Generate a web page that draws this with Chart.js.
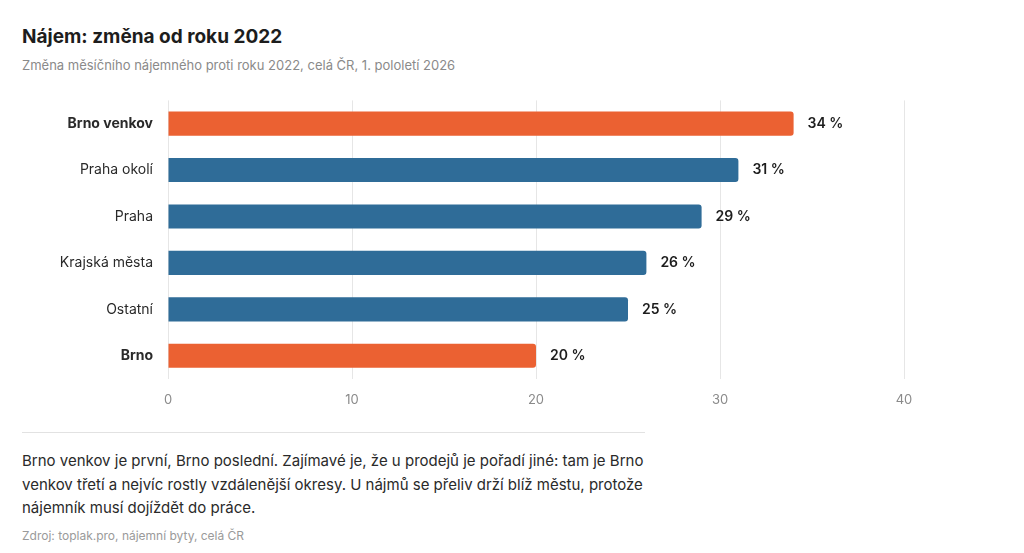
<!DOCTYPE html>
<html><head><meta charset="utf-8">
<script src="https://cdn.jsdelivr.net/npm/chart.js@4"></script>
<style>
body{margin:0;background:#fff;font-family:Inter,"Noto Sans",sans-serif;color:#1d1d1d;width:1024px;height:553px;overflow:hidden;position:relative}
h1{position:absolute;left:22px;top:25px;margin:0;font-size:19px;font-weight:700}
.sub{position:absolute;left:22px;top:57px;font-size:13px;color:#8a8a8a}
#wrap{position:absolute;left:0;top:77px;width:1024px;height:332px}
hr{position:absolute;left:22px;top:432px;width:623px;border:0;border-top:1px solid #e2e2e2;margin:0}
.txt{position:absolute;left:22px;top:449px;width:640px;font-size:15px;line-height:23.5px;color:#2a2a2a}
.src{position:absolute;left:22px;top:528px;font-size:12px;color:#9a9a9a}
</style></head><body>
<h1>Nájem: změna od roku 2022</h1>
<div class="sub">Změna měsíčního nájemného proti roku 2022, celá ČR, 1. pololetí 2026</div>
<div id="wrap"><canvas id="c"></canvas></div>
<hr>
<div class="txt">Brno venkov je první, Brno poslední. Zajímavé je, že u prodejů je pořadí jiné: tam je Brno venkov třetí a nejvíc rostly vzdálenější okresy. U nájmů se přeliv drží blíž městu, protože nájemník musí dojíždět do práce.</div>
<div class="src">Zdroj: toplak.pro, nájemní byty, celá ČR</div>
<script>
const categories = ['Brno venkov', 'Praha okolí', 'Praha', 'Krajská města', 'Ostatní', 'Brno'];
const values = [34, 31, 29, 26, 25, 20];
const highlighted = ['Brno venkov', 'Brno'];

const orange = '#EB6132';
const blue = '#2F6C98';

const valueLabels = {
  id: 'valueLabels',
  afterDatasetsDraw(chart) {
    const ctx = chart.ctx;
    const meta = chart.getDatasetMeta(0);
    ctx.save();
    ctx.font = '600 14px Inter, sans-serif';
    ctx.fillStyle = '#1d1d1d';
    ctx.textBaseline = 'middle';
    meta.data.forEach((bar, i) => {
      ctx.fillText(values[i] + ' %', bar.x + 14, bar.y);
    });
    ctx.restore();
  }
};

new Chart(document.getElementById('c'), {
  type: 'bar',
  data: {
    labels: categories,
    datasets: [{
      data: values,
      backgroundColor: categories.map(c => highlighted.includes(c) ? orange : blue),
      borderRadius: 3,
      borderSkipped: 'start',
      barPercentage: 0.52,
      categoryPercentage: 1
    }]
  },
  options: {
    indexAxis: 'y',
    responsive: true,
    maintainAspectRatio: false,
    animation: false,
    layout: { padding: { top: 10, right: 120, bottom: 0, left: 0 } },
    plugins: { legend: { display: false }, tooltip: { enabled: false } },
    scales: {
      x: {
        min: 0, max: 40,
        ticks: { stepSize: 10, color: '#8a8a8a', font: { size: 13, family: 'Inter' }, padding: 13 },
        grid: { color: '#e6e6e6', drawTicks: false },
        border: { display: false },
        afterFit(s) { s.height = 30; }
      },
      y: {
        ticks: {
          color: '#2a2a2a',
          padding: 15,
          font: ctx => ({ size: 14, family: 'Inter', weight: highlighted.includes(categories[ctx.index]) ? '700' : '400' })
        },
        grid: { display: false, drawTicks: false },
        border: { display: false },
        afterFit(s) { s.width = 168; }
      }
    }
  },
  plugins: [valueLabels]
});
</script>
</body></html>
